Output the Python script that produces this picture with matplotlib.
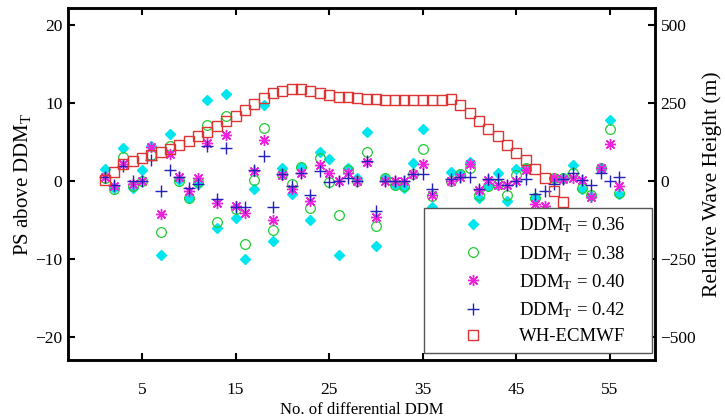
import numpy as np
import matplotlib
matplotlib.use("Agg")
import matplotlib.pyplot as plt

plt.rcParams['font.family'] = ['Liberation Serif', 'DejaVu Serif']
plt.rcParams['mathtext.fontset'] = 'custom'
plt.rcParams['mathtext.rm'] = 'Liberation Serif'
plt.rcParams['mathtext.it'] = 'Liberation Serif:italic'

nan = np.nan
x_ddm = list(range(1, 57))
ps_036 = [1.6, -0.9, 4.25, -0.8, 1.5, 4.5, -9.5, 6.1, 0.1, -2.1, -0.3, 10.4, -6.0, 11.2, -4.65, -9.9,
          -1.0, 9.8, -7.6, 1.7, -1.6, 1.8, -4.9, 3.8, 2.9, -9.5, 1.7, 0.4, 6.25, -8.3, 0.4, -0.5,
          -0.8, 2.4, 6.7, -3.25, nan, 1.15, 0.9, 2.45, -2.1, -0.6, 1.05, -2.5, 1.6, 1.75, -2.1, -4.0,
          0.45, 0.45, 2.05, -1.05, -1.9, 1.75, 7.9, -1.65]
ps_038 = [0.4, -1.0, 3.1, -0.6, 0.0, 3.4, -6.55, 4.55, 0.0, -2.1, -0.1, 7.2, -5.2, 8.3, -3.5, -8.05,
          0.1, 6.85, -6.2, 0.9, -0.4, 1.8, -3.4, 2.95, -0.1, -4.3, 1.5, 0.0, 3.7, -5.75, 0.4, -0.5,
          -0.6, 0.95, 4.1, -1.85, nan, 0.0, 0.95, 1.75, -1.8, -0.6, -0.3, -1.7, 0.8, 1.75, -2.2, -3.8,
          0.45, 0.45, 1.0, -0.8, -1.8, 1.75, 6.75, -1.5]
ps_040 = [0.5, -0.6, 2.2, -0.4, 0.0, 4.4, -4.2, 3.45, 0.6, -1.3, 0.4, 4.85, -2.8, 5.95, -3.2, -4.1,
          1.3, 5.3, -4.95, 0.8, -0.95, 1.1, -2.5, 2.1, 1.1, 0.0, 1.0, 0.0, 2.5, -4.55, 0.0, 0.05,
          0.0, 0.9, 2.2, -1.8, nan, 0.0, 0.55, 2.15, -1.15, 0.15, -0.5, -0.5, 0.05, 1.4, -2.9, -3.15,
          0.45, 0.35, 0.45, 0.2, -2.0, 1.75, 4.8, -0.65]
ps_042 = [0.5, -0.5, 2.0, 0.0, 0.0, 2.7, -1.3, 1.5, 0.6, -0.85, -0.3, 4.5, -2.3, 4.3, -3.35, -3.3,
          1.4, 3.25, -3.3, 0.9, -0.6, 1.0, -1.8, 1.35, -0.1, 0.0, 0.45, 0.0, 2.65, -3.75, 0.05, 0.05,
          0.0, 0.9, 0.9, -1.0, nan, 0.3, 0.55, 0.55, -0.95, 0.35, 0.35, -0.5, 0.05, 0.35, -1.65, -1.2,
          -0.3, 0.35, 1.0, 0.2, -0.5, 1.05, 0.0, 0.5]
x_wh = list(range(1, 51))
wh_ecmwf = [5, 30, 54, 65, 74, 85, 94, 104, 117, 130, 144, 159, 176, 192, 210, 227, 246, 267, 284, 290,
            294, 294, 288, 282, 276, 271, 269, 266, 264, 262, 261, 260, 259, 259, 259, 259, 259, 262,
            243, 218, 193, 168, 144, 117, 92, 67, 40, 12, -30, -68]

left_ticks = [-20, -10, 0, 10, 20]
right_ticks = [-500, -250, 0, 250, 500]
x_ticks = [5, 15, 25, 35, 45, 55]

fig = plt.figure(figsize=(7.25, 4.2), dpi=100)
ax = fig.add_axes([68/725, 60/420, 587/725, 352/420])
ax2 = ax.twinx()

h1, = ax.plot(x_ddm, ps_036, linestyle='none', marker='D', markersize=5.5,
              color='#00e5ee', markeredgecolor='#00e5ee', label=r'DDM$_{\mathrm{T}}$ = 0.36')
h2, = ax.plot(x_ddm, ps_038, linestyle='none', marker='o', markersize=7, markerfacecolor='none',
              markeredgecolor='#22cc33', markeredgewidth=0.9, label=r'DDM$_{\mathrm{T}}$ = 0.38')
h3, = ax.plot(x_ddm, ps_040, linestyle='none', marker=(8, 2, 0), markersize=8, color='#ee22dd',
              markeredgewidth=1.0, label=r'DDM$_{\mathrm{T}}$ = 0.40')
h4, = ax.plot(x_ddm, ps_042, linestyle='none', marker='+', markersize=9, color='#2222bb',
              markeredgewidth=1.0, label=r'DDM$_{\mathrm{T}}$ = 0.42')
h5, = ax2.plot(x_wh, wh_ecmwf, linestyle='none', marker='s', markersize=7.5, markerfacecolor='none',
               markeredgecolor='#dd3333', markeredgewidth=1.0, label='WH-ECMWF')

ax.set_xlim(-2.9, 59.8)
ax.set_ylim(-22.9, 22.2)
ax2.set_ylim(-22.9 * 25, 22.2 * 25)
ax.set_xticks(x_ticks)
ax.set_yticks(left_ticks)
ax2.set_yticks(right_ticks)

for a in (ax, ax2):
    for s in a.spines.values():
        s.set_linewidth(1.8)
ax.tick_params(axis='both', direction='in', length=5, width=1.5, labelsize=12.5,
               top=True, right=False, pad=4)
ax.tick_params(axis='x', pad=16)
ax2.tick_params(axis='y', direction='in', length=5, width=1.5, labelsize=12.5, pad=4)

ax.set_xlabel('No. of differential DDM', fontsize=12, labelpad=3)
ax.set_ylabel(r'PS above DDM$_{\mathrm{T}}$', fontsize=15, labelpad=2)
ax2.set_ylabel('Relative Wave Height (m)', fontsize=15.5, labelpad=4)

leg = ax2.legend(handles=[h1, h2, h3, h4, h5], loc='lower left',
                 bbox_to_anchor=(0.606, 0.02, 0.389, 0.409), mode='expand',
                 fontsize=13.5, frameon=True, fancybox=False, framealpha=1,
                 borderaxespad=0, borderpad=0.4, handlelength=4.5, handletextpad=0.2,
                 labelspacing=0.45)
leg.get_frame().set_edgecolor('#555555')
leg.get_frame().set_linewidth(1.0)
leg.set_zorder(10)

fig.savefig('out.png', dpi=100)
